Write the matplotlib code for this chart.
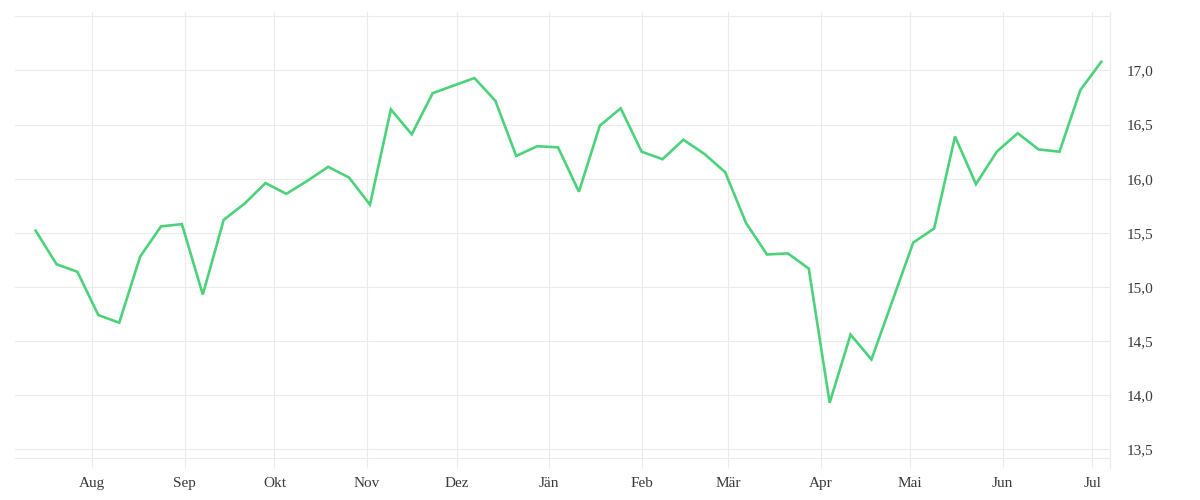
import matplotlib
matplotlib.use("Agg")
import matplotlib.pyplot as plt
import matplotlib.dates as mdates
import pandas as pd
import datetime as dt

# ---- data ----
dates = pd.date_range("2023-07-13", periods=52, freq="7D")
values = [15.52, 15.21, 15.14, 14.74, 14.67, 15.28, 15.56, 15.58, 14.93, 15.62,
          15.77, 15.96, 15.86, 15.98, 16.11, 16.01, 15.76, 16.64, 16.41, 16.79,
          16.86, 16.93, 16.72, 16.21, 16.30, 16.29, 15.88, 16.49, 16.65, 16.25,
          16.18, 16.36, 16.23, 16.06, 15.59, 15.30, 15.31, 15.17, 13.93, 14.56,
          14.33, 14.87, 15.41, 15.54, 16.39, 15.95, 16.25, 16.42, 16.27, 16.25,
          16.82, 17.08]
month_ticks = pd.date_range("2023-08-01", periods=12, freq="MS")
month_labels = ["Aug", "Sep", "Okt", "Nov", "Dez", "Jän", "Feb", "Mär", "Apr", "Mai", "Jun", "Jul"]
y_ticks = [13.5, 14.0, 14.5, 15.0, 15.5, 16.0, 16.5, 17.0, 17.5]
y_labels = ["13,5", "14,0", "14,5", "15,0", "15,5", "16,0", "16,5", "17,0", ""]

GRID = "#ebebeb"
TEXT = "#3a3a3a"
LINE = "#4cd27b"

plt.rcParams["font.family"] = ["Liberation Serif", "DejaVu Serif"]

fig = plt.figure(figsize=(12, 5), dpi=100)
W, H = 1200, 500
ax = fig.add_axes([15 / W, (H - 458) / H, (1110 - 15) / W, (458 - 12) / H])

ax.plot(dates, values, color=LINE, lw=1.9, solid_joinstyle="miter", zorder=3)

ax.set_xlim(mdates.date2num(dt.datetime(2023, 7, 6, 2)), mdates.date2num(dt.datetime(2024, 7, 6, 22)))
ax.set_ylim(13.42, 17.54)

ax.set_xticks(month_ticks)
ax.set_xticklabels(month_labels)
ax.set_yticks(y_ticks)
ax.set_yticklabels(y_labels)

ax.yaxis.tick_right()
ax.tick_params(axis="y", length=0, pad=12, labelsize=11, labelcolor=TEXT)
ax.tick_params(axis="x", length=7.2, width=0.8, color=GRID, pad=6.5, labelsize=11, labelcolor=TEXT)

ax.grid(True, color=GRID, lw=0.8, zorder=0)
ax.set_axisbelow(True)

for s in ["left", "top"]:
    ax.spines[s].set_visible(False)
ax.spines["bottom"].set_color(GRID)
ax.spines["bottom"].set_linewidth(0.8)
ax.spines["right"].set_visible(False)
# right axis line extending below the plot like the tick marks
ax.plot([1, 1], [1, -10 / 446], transform=ax.transAxes, color=GRID, lw=0.8, clip_on=False, zorder=1)

fig.savefig("out.png", dpi=100, facecolor="white")
